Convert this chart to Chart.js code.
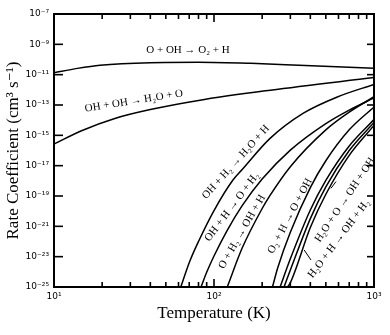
<!DOCTYPE html>
<html><head><meta charset="utf-8">
<script src="https://cdn.jsdelivr.net/npm/chart.js@4/dist/chart.umd.min.js"></script>
<style>html,body{margin:0;padding:0;background:#fff}#wrap{width:390px;height:335px}</style>
</head><body><div id="wrap"><canvas id="c"></canvas></div>
<script>
// ---- tick values / labels ----
const xTicks = [10, 100, 1000];
const xTickLabels = ['10¹', '10²', '10³'];
const xMinorTicks = [20,30,40,50,60,70,80,90,200,300,400,500,600,700,800,900];
const yTicks = [1e-7,1e-9,1e-11,1e-13,1e-15,1e-17,1e-19,1e-21,1e-23,1e-25];
const yTickLabels = ['10⁻⁷','10⁻⁹','10⁻¹¹','10⁻¹³','10⁻¹⁵','10⁻¹⁷','10⁻¹⁹','10⁻²¹','10⁻²³','10⁻²⁵'];

// ---- series (temperature K, rate coefficient cm^3 s^-1) ----
const T_O_OH = [10, 14, 19.4, 40, 80, 170, 340, 1000];
const K_O_OH = [1.35e-11, 2.6e-11, 4.2e-11, 6.2e-11, 6.6e-11, 5.6e-11, 4.2e-11, 2.6e-11];

const T_OH_OH = [10, 15, 24, 40, 80, 225, 1000];
const K_OH_OH = [2.7e-16, 2.1e-15, 1.3e-14, 5e-14, 2e-13, 9.5e-13, 6.5e-12];

const T_OH_H2 = [62, 70, 80, 100, 131, 150, 224, 360, 590, 1000];
const K_OH_H2 = [1e-25, 4e-24, 1e-22, 1.1e-20, 1.1e-18, 5.6e-18, 6.3e-16, 2.8e-14, 3.4e-13, 2.3e-12];

const T_OH_H = [83, 90, 100, 120, 150, 200, 300, 500, 700, 1000];
const K_OH_H = [1e-25, 9.3e-25, 1.1e-23, 4.7e-22, 2.3e-20, 1.3e-18, 1.05e-16, 5.9e-15, 4.6e-14, 2.9e-13];

const T_O_H2 = [121, 150, 200, 224, 300, 500, 700, 1000];
const K_O_H2 = [1e-25, 3.7e-23, 1.5e-20, 1.1e-19, 8.6e-18, 2.3e-15, 3.4e-14, 3.5e-13];

const T_O2_H = [232, 250, 300, 400, 500, 700, 1000];
const K_O2_H = [1e-25, 1.8e-24, 4.1e-22, 3.6e-19, 2.1e-17, 2.3e-15, 7.4e-14];

const T_H2O_O = [259, 300, 400, 500, 700, 1000];
const K_H2O_O = [1e-25, 7.2e-24, 1.2e-20, 1.07e-18, 2e-16, 1.1e-14];

const T_H2O_X = [274, 300, 400, 500, 700, 1000];
const K_H2O_X = [1e-25, 1.3e-24, 3.2e-21, 4e-19, 1e-16, 7.1e-15];

const T_H2O_H = [288, 300, 400, 500, 700, 1000];
const K_H2O_H = [1e-25, 1.9e-25, 8.3e-22, 1.3e-19, 4.8e-17, 4.5e-15];

// ---- curve labels (text, anchor T, anchor k, angle deg) ----
const labelText = ['O + OH → O₂ + H','OH + OH → H₂O + O','OH + H₂ → H₂O + H','OH + H → O + H₂','O + H₂ → OH + H','O₂ + H → O + OH','H₂O + O → OH + OH','H₂O + H → OH + H₂'];
const labelT = [68.8, 31.6, 137, 129.6, 149.6, 298.5, 659, 604];
const labelK = [4.3e-10, 1.8e-13, 1.7e-17, 1.9e-20, 4.3e-22, 4.8e-21, 5.5e-20, 1.5e-22];
const labelAngle = [0, -9, -48, -53, -60, -62, -56, -53];
// leader lines [T1,k1,T2,k2]
const leaders = [[538, 3.2e-19, 579, 8.9e-19],[366, 2.75e-23, 404, 6e-24]];

const series = [
  [T_O_OH, K_O_OH],[T_OH_OH, K_OH_OH],[T_OH_H2, K_OH_H2],[T_OH_H, K_OH_H],
  [T_O_H2, K_O_H2],[T_O2_H, K_O2_H],[T_H2O_O, K_H2O_O],[T_H2O_X, K_H2O_X],[T_H2O_H, K_H2O_H]
];

const SERIF = '"Liberation Serif", "DejaVu Serif", serif';
const SANS = '"DejaVu Sans", sans-serif';

function seg(ctx, x1, y1, x2, y2, w) {
  ctx.lineWidth = w;
  ctx.beginPath();
  ctx.moveTo(x1, y1);
  ctx.lineTo(x2, y2);
  ctx.stroke();
}

const decor = {
  id: 'decor',
  afterDraw(chart) {
    const {ctx, chartArea: a, scales: {x, y}} = chart;
    ctx.save();
    ctx.setLineDash([]);
    ctx.globalAlpha = 1;
    ctx.strokeStyle = '#000';
    ctx.fillStyle = '#000';
    ctx.lineCap = 'butt';
    // frame
    ctx.lineWidth = 2;
    ctx.strokeRect(a.left, a.top, a.right - a.left, a.bottom - a.top);
    // ticks (inward)
    for (const v of xTicks) { const px = x.getPixelForValue(v);
      seg(ctx, px, a.bottom, px, a.bottom - 8, 1.6);
      seg(ctx, px, a.top, px, a.top + 8, 1.6); }
    for (const v of xMinorTicks) { const px = x.getPixelForValue(v);
      seg(ctx, px, a.bottom, px, a.bottom - 5, 1.6);
      seg(ctx, px, a.top, px, a.top + 5, 1.6); }
    for (const v of yTicks) { const py = y.getPixelForValue(v);
      seg(ctx, a.left, py, a.left + 9, py, 1.6);
      seg(ctx, a.right, py, a.right - 7, py, 1.6); }
    // curve labels
    ctx.font = '11px ' + SERIF;
    ctx.textAlign = 'center';
    ctx.textBaseline = 'middle';
    labelText.forEach((t, i) => {
      const px = x.getPixelForValue(labelT[i]);
      const py = y.getPixelForValue(labelK[i]);
      ctx.save();
      ctx.translate(px, py);
      ctx.rotate(labelAngle[i] * Math.PI / 180);
      ctx.fillText(t, 0, 0);
      ctx.restore();
    });
    leaders.forEach(l => seg(ctx, x.getPixelForValue(l[0]), y.getPixelForValue(l[1]),
      x.getPixelForValue(l[2]), y.getPixelForValue(l[3]), 1));
    ctx.restore();
  }
};

new Chart(document.getElementById('c'), {
  type: 'line',
  data: {
    datasets: series.map(s => ({
      data: s[0].map((t, i) => ({x: t, y: s[1][i]})),
      borderColor: '#000', borderWidth: 1.5, pointRadius: 0, fill: false,
      cubicInterpolationMode: 'monotone'
    }))
  },
  options: {
    animation: false, responsive: true, maintainAspectRatio: false, devicePixelRatio: 1,
    layout: {padding: {top: 14, right: 16, left: 0, bottom: 0}},
    plugins: {legend: {display: false}, tooltip: {enabled: false}},
    scales: {
      x: {
        type: 'logarithmic', min: 10, max: 1000,
        afterBuildTicks: s => { s.ticks = xTicks.map(v => ({value: v})); },
        afterFit: s => { s.height = 48; },
        grid: {display: false, drawTicks: false}, border: {display: false},
        ticks: {autoSkip: false, maxRotation: 0, padding: 4, color: '#000',
          font: {family: SANS, size: 9},
          callback: (v, i) => xTickLabels[i]},
        title: {display: true, text: 'Temperature (K)', color: '#000',
          font: {family: SERIF, size: 17}, padding: {top: 0, bottom: 11}}
      },
      y: {
        type: 'logarithmic', min: 1e-25, max: 1e-7,
        afterBuildTicks: s => { s.ticks = yTicks.map(v => ({value: v})); },
        afterFit: s => { s.width = 54; },
        grid: {display: false, drawTicks: false}, border: {display: false},
        ticks: {autoSkip: false, padding: 5, color: '#000',
          font: {family: SANS, size: 9},
          callback: (v, i) => yTickLabels[i]},
        title: {display: true, text: 'Rate Coefficient (cm³ s⁻¹)', color: '#000',
          font: {family: SERIF, size: 17}, padding: {top: 3, bottom: 0}}
      }
    }
  },
  plugins: [decor]
});
</script></body></html>
